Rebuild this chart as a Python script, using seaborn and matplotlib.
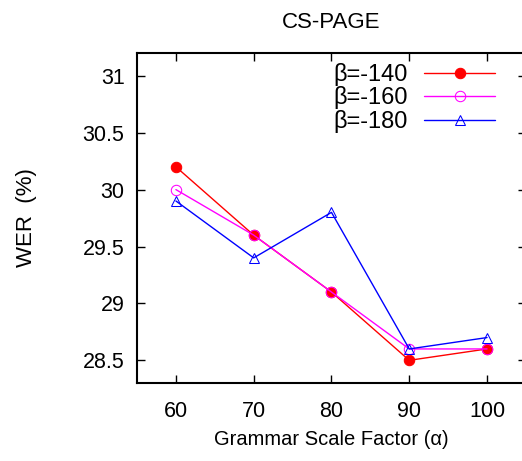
import pandas as pd
import matplotlib
matplotlib.use('Agg')
import matplotlib.pyplot as plt
import matplotlib.ticker as mticker
import seaborn as sns

# Datos
alpha = [60, 70, 80, 90, 100]
wer_140 = [30.2, 29.6, 29.1, 28.5, 28.6]
wer_160 = [30.0, 29.6, 29.1, 28.6, 28.6]
wer_180 = [29.9, 29.4, 29.8, 28.6, 28.7]
etiquetas = ['β=-140', 'β=-160', 'β=-180']

sns.set_style('ticks')
plt.rcParams['font.family'] = ['Liberation Sans', 'DejaVu Sans']
plt.rcParams.update({'text.color': 'black', 'axes.labelcolor': 'black',
                     'xtick.color': 'black', 'ytick.color': 'black'})

fig = plt.figure(figsize=(5.22, 4.61), dpi=100)
ax = fig.add_axes([0.2625, 0.169, 0.745, 0.716])

estilos = [
    (wer_140, 'red', dict(marker='o', markersize=7.5, markerfacecolor='red', markeredgecolor='red')),
    (wer_160, 'magenta', dict(marker='o', markersize=7.5, markerfacecolor='none', markeredgecolor='magenta')),
    (wer_180, 'blue', dict(marker='^', markersize=7.5, markerfacecolor='none', markeredgecolor='blue')),
]

for (valores, color, mk), etiqueta in zip(estilos, etiquetas):
    df = pd.DataFrame({'alpha': alpha, 'wer': valores})
    sns.lineplot(data=df, x='alpha', y='wer', color=color, linewidth=1,
                 label=etiqueta, ax=ax, **mk)

ax.set_xlim(55, 105)
ax.set_ylim(28.3, 31.2)
ax.set_xticks(alpha)
ax.set_yticks([28.5, 29, 29.5, 30, 30.5, 31])
ax.yaxis.set_major_formatter(mticker.FormatStrFormatter('%g'))
ax.tick_params(direction='in', length=6, width=1, labelsize=15.5, top=True, right=True,
               colors='black')
ax.tick_params(axis='x', pad=13)
ax.tick_params(axis='y', pad=9)
for s in ax.spines.values():
    s.set_linewidth(1.5)
    s.set_color('black')

ax.set_title('CS-PAGE', fontsize=16, pad=18, color='black')
ax.set_xlabel('Grammar Scale Factor (α)', fontsize=14.5, labelpad=6, color='black')
ax.set_ylabel('WER  (%)', fontsize=16, labelpad=33, color='black')

leg = ax.legend(loc='upper right', bbox_to_anchor=(0.963, 1.02), frameon=False, markerfirst=False,
                fontsize=17, handlelength=3.0, labelspacing=0.02, borderaxespad=0.3, handletextpad=0.7)
for t in leg.get_texts():
    t.set_color('black')

fig.savefig('out.png', dpi=100)
